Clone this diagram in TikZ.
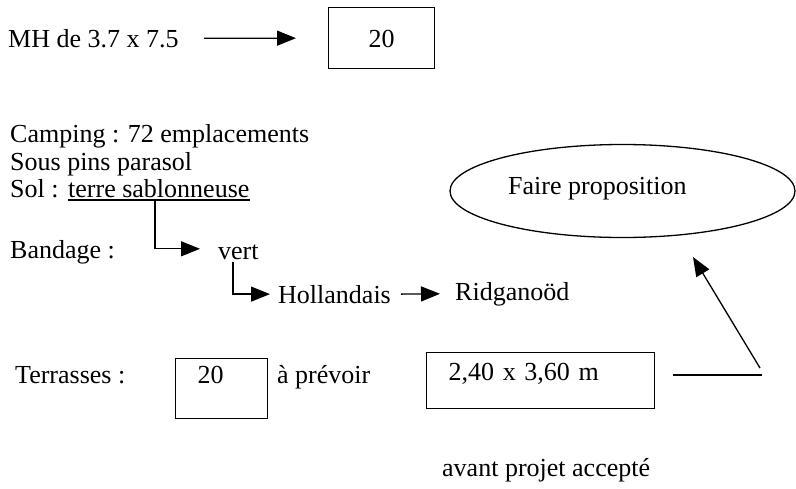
\documentclass[tikz,border=0pt]{standalone}
\usepackage{fontspec}
\setmainfont{Liberation Serif}
\usetikzlibrary{arrows.meta,shapes.geometric}
\begin{document}
\begin{tikzpicture}[x=1pt,y=-1pt,
  every node/.style={inner sep=0pt, font=\fontsize{26}{31}\selectfont},
  txt/.style={anchor=base west},
  numbox/.style={draw, line width=1.3pt, anchor=north west, inner ysep=0pt},
  arr/.style={line width=1.3pt, -{Triangle[length=19pt,width=15pt]}},
  ln/.style={line width=1.3pt}]
\useasboundingbox (0,0) rectangle (796,488);

% texts
\node[txt] (mh) at (8,47) {MH de 3.7 x 7.5};
\node[txt] (camp) at (10,142) {Camping : 72 emplacements};
\node[txt] (sous) at (10,170) {Sous pins parasol};
\node[txt] (sol) at (10,197) {Sol :};
\node[txt] (sable) at (68,197) {terre sablonneuse};
\node[txt] (band) at (10,258) {Bandage :};
\node[txt] (vert) at (218,259) {vert};
\node[txt] (holl) at (278,303) {Hollandais};
\node[txt] (ridg) at (455,300) {Ridganoöd};
\node[txt] (terr) at (15,383) {Terrasses :};
\node[txt] (prev) at (277,383) {à prévoir};
\node[txt] (avant) at (442,476) {avant projet accepté};

% boxes
\node[numbox, inner xsep=35pt, text width=36pt, align=center,
      text height=40pt, text depth=21pt] (box1) at (328,7) {20};
\node[numbox, inner xsep=22pt, text width=48pt, align=left,
      text height=25pt, text depth=35pt] (boxt) at (175,358) {20};
\node[numbox, inner xsep=22pt, text width=184pt, align=left,
      text height=28pt, text depth=28pt] (box2) at (426,352) {2,40 x 3,60 m};

% ellipse
\node[draw, ellipse, line width=1.3pt, minimum width=345pt, minimum height=93pt] (ell) at (622.5,191) {};
\node[txt] (faire) at (508,194) {Faire proposition};

% underline
\draw[line width=1.1pt] ([yshift=-3pt]sable.base west) -- ([yshift=-3pt]sable.base east);

% connectors
\coordinate (ul) at (155,200);
\coordinate (bend) at (762,375);
\coordinate (tail) at (760,368);
\coordinate (tip) at (693,257);

\draw[arr] ([xshift=25pt]mh.east) -- ([xshift=-32pt]box1.west);
\draw[arr] (ul) |- ([xshift=-18pt,yshift=3pt]vert.west);
\draw[arr] ([xshift=15pt,yshift=-3pt]vert.base west) |- ([xshift=-8pt]holl.west);
\draw[arr] ([xshift=10pt]holl.east) -- ([xshift=-15pt]ridg.west);
\draw[ln] ([xshift=18pt]box2.east |- bend) -- (bend);
\draw[arr] (tail) -- (tip);
\end{tikzpicture}
\end{document}
